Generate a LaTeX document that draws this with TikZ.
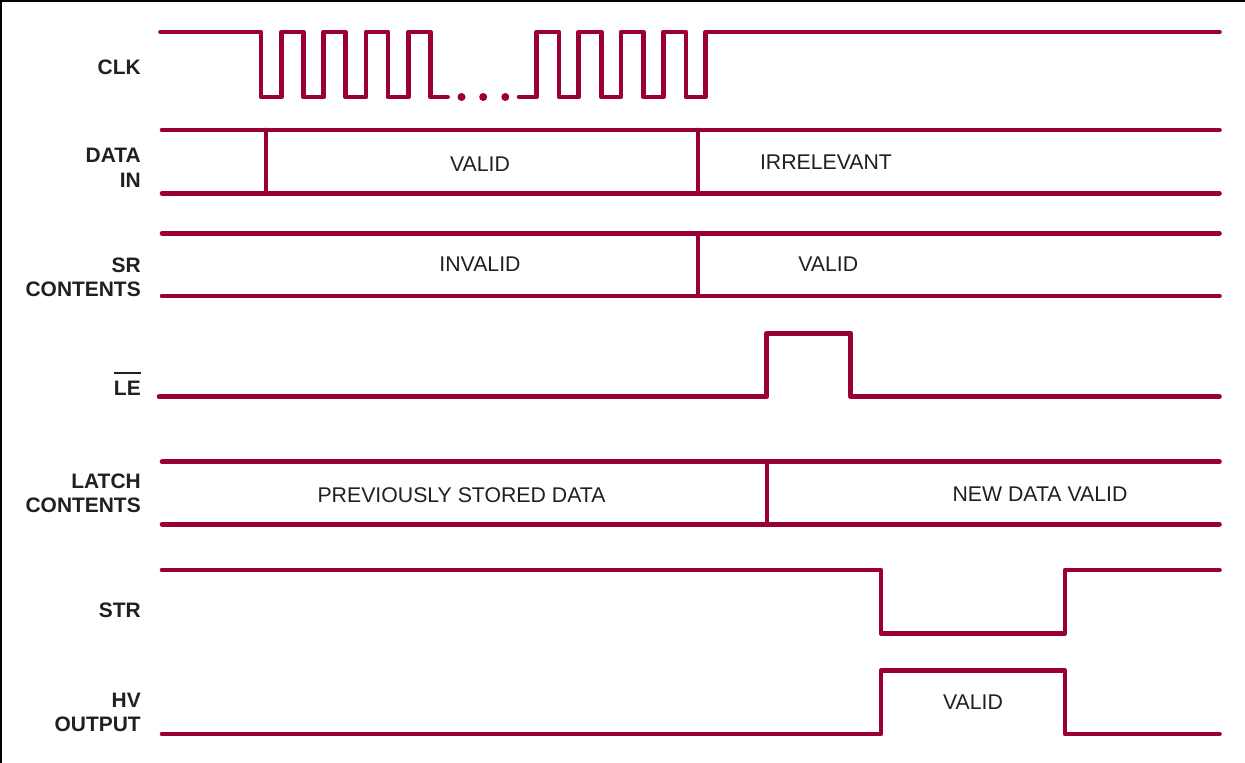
\documentclass[tikz,border=0pt]{standalone}
\usepackage{fontspec}
\setmainfont{Liberation Sans}
\definecolor{wavec}{RGB}{155,0,50}
\definecolor{ink}{RGB}{35,31,32}
\begin{document}
\begin{tikzpicture}[x=0.75pt,y=-0.75pt,
  wave/.style={draw=wavec, line width=3.5pt, line cap=round, line join=round},
  lbl/.style={font=\fontsize{15.7}{18}\selectfont\bfseries, text=ink, inner sep=0pt, anchor=base east},
  txt/.style={font=\fontsize{15.95}{18}\selectfont, text=ink, inner sep=0pt, anchor=center},
  dotc/.style={fill=wavec}]
\useasboundingbox (0,0) rectangle (1245,763);
\fill[white] (0,0) rectangle (1245,763);
\draw[black, line width=1.9pt] (1.2,763) -- (1.2,1.2) -- (1245,1.2);

% CLK
\draw[wave] (160.5,32) -- (261,32) -- (261,97) -- (281.5,97) -- (281.5,32)
  -- (303.3,32) -- (303.3,97) -- (323.8,97) -- (323.8,32)
  -- (345.6,32) -- (345.6,97) -- (366.1,97) -- (366.1,32)
  -- (387.9,32) -- (387.9,97) -- (408.4,97) -- (408.4,32)
  -- (430.2,32) -- (430.2,97) -- (447.6,97);
\fill[dotc] (461.5,97) circle[radius=3pt];
\fill[dotc] (483.2,97) circle[radius=3pt];
\fill[dotc] (505.3,97) circle[radius=3pt];
\draw[wave] (519,97) -- (536.5,97) -- (536.5,32) -- (559,32) -- (559,97)
  -- (578.8,97) -- (578.8,32) -- (601.3,32) -- (601.3,97)
  -- (621.1,97) -- (621.1,32) -- (643.6,32) -- (643.6,97)
  -- (663.4,97) -- (663.4,32) -- (685.9,32) -- (685.9,97)
  -- (705.7,97) -- (705.7,32) -- (1219.5,32);

% DATA IN
\draw[wave] (162,130) -- (1219.5,130);
\draw[wave] (162,193.3) -- (1219.5,193.3);
\draw[wave] (266,130) -- (266,193.3);
\draw[wave] (698,130) -- (698,193.3);

% SR CONTENTS
\draw[wave] (162,233.3) -- (1219.5,233.3);
\draw[wave] (162,296) -- (1219.5,296);
\draw[wave] (698,233.3) -- (698,296);

% LE
\draw[wave] (159,396.7) -- (766.7,396.7) -- (766.7,333.3) -- (850.7,333.3) -- (850.7,396.7) -- (1219.5,396.7);

% LATCH CONTENTS
\draw[wave] (162,461.7) -- (1219.5,461.7);
\draw[wave] (162,524.3) -- (1219.5,524.3);
\draw[wave] (767,461.7) -- (767,524.3);

% STR
\draw[wave] (162,570) -- (881,570) -- (881,633.3) -- (1065,633.3) -- (1065,570) -- (1219.5,570);

% HV OUTPUT
\draw[wave] (162,734) -- (881,734) -- (881,670.7) -- (1065,670.7) -- (1065,734) -- (1219.5,734);

% labels
\node[lbl] (lclk) at (141,74.5) {CLK};
\node[lbl] (ldata) at (141,162.7) {DATA};
\node[lbl] (lin) at (141,187) {IN};
\node[lbl] (lsr) at (141,272) {SR};
\node[lbl] (lsrc) at (141,296) {CONTENTS};
\node[lbl] (lle) at (141,395) {LE};
\draw[ink, line width=1.5pt] ([yshift=5.2pt]lle.north west) -- ([yshift=5.2pt]lle.north east);
\node[lbl] (llatch) at (141,488.3) {LATCH};
\node[lbl] (llatchc) at (141,512.5) {CONTENTS};
\node[lbl] (lstr) at (141,617.5) {STR};
\node[lbl] (lhv) at (141,707) {HV};
\node[lbl] (lout) at (141,731) {OUTPUT};

% texts
\node[txt] (tvalid1) at (480,164) {VALID};
\node[txt] (tirr) at (826,162) {IRRELEVANT};
\node[txt] (tinv) at (480,264) {INVALID};
\node[txt] (tvalid2) at (828.3,263.8) {VALID};
\node[txt] (tprev) at (461.5,495) {PREVIOUSLY STORED DATA};
\node[txt] (tnew) at (1040,494.5) {NEW DATA VALID};
\node[txt] (tvalid3) at (973,701.7) {VALID};
\end{tikzpicture}
\end{document}
